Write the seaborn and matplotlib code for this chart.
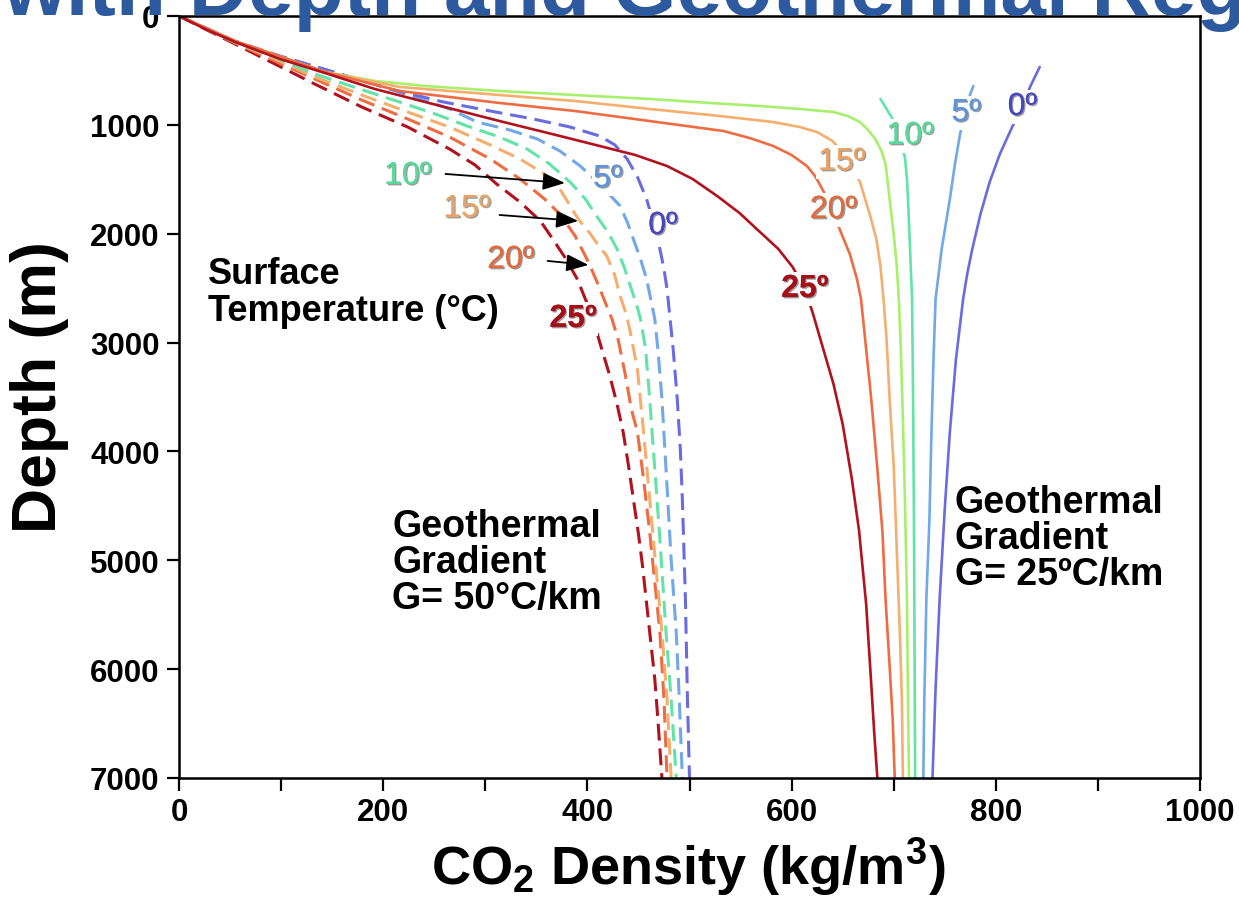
import numpy as np
import pandas as pd
import matplotlib
matplotlib.use("Agg")
import matplotlib.pyplot as plt
import matplotlib.patheffects as pe
from matplotlib.ticker import MultipleLocator
import seaborn as sns

# ---------------- data (CO2 density kg/m3 vs depth m) ----------------
# Geothermal gradient 25 C/km (solid curves)
s25_rho = [0, 25.5, 54.8, 98.9, 143, 192, 241, 314, 373, 412, 447, 478, 503, 527, 549, 569, 587,
           601, 613, 621, 631, 641, 650, 659, 666, 673, 678, 681, 684]
s25_dep = [0, 119, 239, 395, 524, 671, 790, 965, 1102, 1194, 1277, 1378, 1497, 1653, 1810, 1984, 2140,
           2306, 2508, 2737, 3059, 3380, 3748, 4253, 4722, 5401, 6136, 6596, 7000]

s20_rho = [0, 54.8, 143, 216, 314, 388, 461, 533, 559, 582, 600, 615, 623, 630, 640, 647, 657, 664,
           668, 673, 678, 684, 689, 692, 696, 699, 701]
s20_dep = [0, 230, 514, 689, 799, 873, 965, 1056, 1121, 1194, 1277, 1378, 1470, 1589, 1773, 1957, 2186, 2416,
           2600, 3059, 3518, 4161, 4740, 5355, 5971, 6458, 7000]

s15_rho = [0, 54.8, 143, 216, 314, 388, 461, 530, 582, 608, 625, 640, 649, 657, 667, 677, 683, 687,
           690, 693, 696, 700, 703, 706, 708, 709]
s15_dep = [0, 230, 514, 652, 726, 781, 854, 919, 974, 1020, 1066, 1148, 1240, 1341, 1525, 1837, 2048, 2297,
           2600, 2967, 3518, 4134, 4896, 5659, 6274, 7000]

sg_rho = [0, 54.8, 143, 192, 241, 314, 388, 461, 520, 569, 608, 641, 655, 667, 675, 682, 688, 692,
          694, 696, 700, 703, 705, 707, 709, 711, 713, 714, 715]
sg_dep = [0, 230, 514, 597, 643, 689, 726, 762, 799, 827, 854, 882, 919, 974, 1047, 1130, 1240, 1360,
          1516, 1681, 2003, 2297, 2600, 3059, 3702, 4437, 5355, 6274, 7000]

s10_rho = [687, 693, 699, 711, 713, 714, 716, 718, 719, 720, 721]
s10_dep = [762, 854, 946, 1295, 1497, 1681, 2140, 2600, 3518, 4896, 7000]

s5_rho = [778, 775, 770, 765, 760, 755, 751, 747, 744, 741, 739, 737, 735, 732, 730, 729]
s5_dep = [643, 717, 882, 1084, 1360, 1681, 1911, 2140, 2370, 2600, 3151, 3821, 4621, 5355, 6274, 7000]

s0_rho = [843, 834, 826, 816, 804, 794, 785, 777, 772, 768, 761, 755, 750, 745, 741, 738]
s0_dep = [468, 643, 827, 1020, 1268, 1525, 1819, 2140, 2370, 2600, 3151, 3821, 4529, 5355, 6182, 7000]

# Geothermal gradient 50 C/km (dashed curves)
d25_rho = [0, 54.8, 94, 133, 179, 224, 265, 290, 311, 334, 354, 366, 379, 390, 400, 407, 412, 422,
           429, 435, 440, 445, 450, 454, 461, 466, 469, 473]
d25_dep = [0, 257, 441, 625, 836, 1020, 1222, 1369, 1543, 1709, 1883, 2048, 2232, 2416, 2646, 2829, 2995, 3307,
           3564, 3821, 4115, 4437, 4758, 5052, 5659, 6090, 6458, 7000]

d20_rho = [0, 54.8, 94, 133, 179, 224, 265, 305, 334, 358, 373, 388, 401, 409, 415, 424, 430, 437,
           443, 449, 455, 461, 466, 471, 475, 478]
d20_dep = [0, 248, 413, 579, 772, 946, 1112, 1314, 1497, 1681, 1819, 2021, 2260, 2434, 2572, 2783, 2967, 3289,
           3610, 3821, 4253, 4740, 5199, 5659, 6274, 7000]

d15_rho = [0, 54.8, 94, 133, 179, 224, 265, 305, 334, 358, 373, 391, 403, 412, 419, 427, 432, 438,
           442, 449, 455, 461, 467, 473, 478, 482]
d15_dep = [0, 239, 395, 560, 726, 882, 1020, 1185, 1314, 1451, 1589, 1865, 2003, 2122, 2205, 2388, 2572, 2737,
           2903, 3243, 3821, 4437, 5052, 5659, 6274, 7000]

d10_rho = [0, 54.8, 94, 133, 177, 216, 251, 282, 314, 341, 363, 383, 398, 409, 420, 429, 436, 442,
           448, 452, 457, 461, 466, 471, 477, 482, 487]
d10_dep = [0, 239, 377, 533, 671, 790, 900, 1010, 1112, 1222, 1360, 1525, 1681, 1837, 1984, 2140, 2306, 2480,
           2646, 2783, 3059, 3518, 4161, 4804, 5659, 6274, 7000]

d5_rho = [0, 54.8, 98.9, 148, 197, 236, 265, 292, 324, 351, 373, 393, 412, 432, 439, 445, 452, 458,
          462, 466, 469, 473, 477, 482, 487, 490, 493]
d5_dep = [0, 230, 377, 505, 643, 762, 854, 974, 1047, 1130, 1240, 1378, 1543, 1745, 1892, 2048, 2232, 2416,
          2600, 2783, 3059, 3518, 4161, 4988, 5659, 6274, 7000]

d0_rho = [0, 54.8, 98.9, 148, 207, 259, 305, 347, 383, 412, 427, 439, 449, 458, 465, 471, 475, 478,
          481, 484, 488, 491, 493, 496, 498, 500]
d0_dep = [0, 230, 367, 505, 671, 790, 873, 946, 1020, 1102, 1185, 1314, 1479, 1681, 1911, 2140, 2324, 2508,
          2783, 3059, 3518, 3978, 4437, 5355, 6274, 7000]

x_ticks = [0, 200, 400, 600, 800, 1000]
y_ticks = [0, 1000, 2000, 3000, 4000, 5000, 6000, 7000]

# ---------------- assemble ----------------
solid = {"25": (s25_rho, s25_dep), "20": (s20_rho, s20_dep), "15": (s15_rho, s15_dep),
         "g": (sg_rho, sg_dep), "10": (s10_rho, s10_dep), "5": (s5_rho, s5_dep),
         "0": (s0_rho, s0_dep)}
dashed = {"25": (d25_rho, d25_dep), "20": (d20_rho, d20_dep), "15": (d15_rho, d15_dep),
          "10": (d10_rho, d10_dep), "5": (d5_rho, d5_dep), "0": (d0_rho, d0_dep)}


def to_frame(curves, grad):
    rows = []
    for t, (r, d) in curves.items():
        for a, b in zip(r, d):
            rows.append({"temp": t, "grad": grad, "rho": a, "depth": b})
    return pd.DataFrame(rows)


df_s = to_frame(solid, "G25")
df_d = to_frame(dashed, "G50")

pal = {"0": "#6b6be0", "5": "#70a8ea", "10": "#62e4a8", "g": "#a8f06c",
       "15": "#f5ae6e", "20": "#ee6c42", "25": "#b2121e"}

sns.set_style("ticks")
plt.rcParams["font.family"] = ["Liberation Sans", "DejaVu Sans"]
plt.rcParams["text.color"] = "black"
plt.rcParams["axes.labelcolor"] = "black"
plt.rcParams["xtick.color"] = "black"
plt.rcParams["ytick.color"] = "black"
plt.rcParams["mathtext.fontset"] = "custom"
plt.rcParams["mathtext.rm"] = "Liberation Sans:bold"
plt.rcParams["mathtext.bf"] = "Liberation Sans:bold"
plt.rcParams["mathtext.it"] = "Liberation Sans:bold"

fig = plt.figure(figsize=(12.39, 9.04), dpi=100)
ax = fig.add_axes([179 / 1239, 1 - 779 / 904, (1200 - 179) / 1239, (779 - 17) / 904])

sns.lineplot(data=df_d, x="rho", y="depth", hue="temp", style="grad",
             hue_order=["25", "20", "15", "10", "5", "0"],
             dashes={"G50": (5.5, 2.6)}, palette=pal, sort=False, estimator=None,
             lw=2.2, legend=False, ax=ax)
sns.lineplot(data=df_s, x="rho", y="depth", hue="temp",
             hue_order=["0", "5", "10", "g", "15", "20", "25"],
             palette=pal, sort=False, estimator=None, lw=1.9, legend=False, ax=ax)

ax.set_xlim(0, 1000)
ax.set_ylim(7000, 0)
ax.set_xticks(x_ticks)
ax.set_yticks(y_ticks)
ax.xaxis.set_minor_locator(MultipleLocator(100))
ax.tick_params(which="both", direction="out", length=9, width=1.6, labelsize=22.5, pad=5,
               colors="black")
for lab in ax.get_xticklabels() + ax.get_yticklabels():
    lab.set_fontweight("bold")
for sp in ax.spines.values():
    sp.set_linewidth(1.8)
    sp.set_color("black")
    sp.set_visible(True)

ax.set_xlabel(r"CO$_2$ Density (kg/m$^3$)", fontsize=39, fontweight="bold")
ax.set_ylabel("Depth (m)", fontsize=45, fontweight="bold")
ax.xaxis.set_label_coords(0.4985, -0.075)
ax.yaxis.set_label_coords(-0.108, 0.515)

shadow = [pe.withSimplePatchShadow(offset=(1, -1), shadow_rgbFace="#222222", alpha=0.45), pe.Normal()]


def tlabel(x, y, s, color, weight="normal"):
    ax.text(x, y, s, color=color, fontsize=23, fontweight=weight, ha="center", va="center",
            path_effects=shadow, zorder=5,
            bbox=dict(boxstyle="square,pad=0.05", fc="white", ec="none"))


# dashed-curve labels
tlabel(224, 1470, "10º", "#5ad89c")
tlabel(282, 1773, "15º", "#e8a468")
tlabel(325, 2241, "20º", "#e26a3c")
tlabel(386, 2783, "25º", "#a50f1a", "bold")
tlabel(420, 1497, "5º", "#5e94d8")
tlabel(474, 1929, "0º", "#4747c0")
# solid-curve labels
tlabel(613, 2508, "25º", "#a50f1a", "bold")
tlabel(641, 1782, "20º", "#e26a3c")
tlabel(649, 1341, "15º", "#e8a468")
tlabel(716, 1102, "10º", "#5ad89c")
tlabel(771, 891, "5º", "#5e94d8")
tlabel(826, 836, "0º", "#4747c0")

arrow = dict(arrowstyle="-|>,head_length=0.9,head_width=0.35", color="black", lw=1.3,
             mutation_scale=15, shrinkA=0, shrinkB=0)
ax.annotate("", xy=(378, 1534), xytext=(261, 1451), arrowprops=arrow, zorder=6)
ax.annotate("", xy=(391, 1883), xytext=(314, 1828), arrowprops=arrow, zorder=6)
ax.annotate("", xy=(401, 2287), xytext=(361, 2250), arrowprops=arrow, zorder=6)

ax.text(28, 2535, "Surface\nTemperature (°C)", fontsize=26, fontweight="bold",
        ha="left", va="center", linespacing=1.1)
ax.text(209, 5015, "Geothermal\nGradient\nG= 50°C/km", fontsize=27, fontweight="bold",
        ha="left", va="center", linespacing=1.0)
ax.text(760, 4795, "Geothermal\nGradient\nG= 25ºC/km", fontsize=27, fontweight="bold",
        ha="left", va="center", linespacing=1.0)

# partially visible slide title
fig.text(2 / 1239, 1 - 15 / 904, "with Depth and Geothermal Regime", fontsize=59,
         fontweight="bold", color="#2d5a9e", ha="left", va="baseline")

fig.savefig("out.png", dpi=100, facecolor="white")
